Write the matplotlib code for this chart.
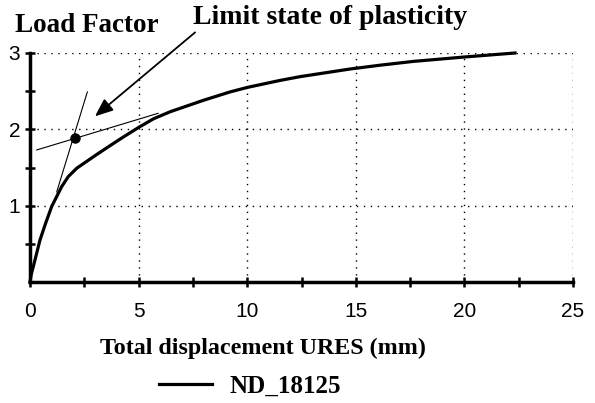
import matplotlib.pyplot as plt

# load-displacement curve
disp = [0, 0.05, 0.23, 0.46, 0.72, 1.0, 1.23, 1.46, 1.76, 2.15, 2.61, 3.07, 3.76,
        4.3, 5.03, 5.7, 6.45, 7.98, 9.21, 10.02, 11.5, 12.43, 13.81, 14.73,
        16.11, 17.65, 20.1, 22.33]
load = [0, 0.09, 0.29, 0.55, 0.77, 0.99, 1.12, 1.25, 1.38, 1.49, 1.58, 1.67, 1.80,
        1.90, 2.03, 2.14, 2.23, 2.38, 2.49, 2.55, 2.64, 2.69, 2.75, 2.79,
        2.84, 2.89, 2.95, 3.0]

# construction lines for the limit state
tangent_plastic_x = [0.31, 5.9]
tangent_plastic_y = [1.73, 2.21]
tangent_elastic_x = [1.23, 2.64]
tangent_elastic_y = [1.18, 2.49]
limit_point = (2.07, 1.89)

xticks = [0, 5, 10, 15, 20, 25]
yticks = [1, 2, 3]

serif = "Liberation Serif"
sans = "Liberation Sans"

fig = plt.figure(figsize=(5.95, 4.03), dpi=100)
ax = fig.add_axes([30 / 595, 1 - 282 / 403, 543 / 595, 229 / 403])

ax.plot(disp, load, color="black", lw=2.3, label="ND_18125", clip_on=False,
        zorder=3, solid_joinstyle="round")
ax.plot(tangent_plastic_x, tangent_plastic_y, color="black", lw=0.8)
ax.plot(tangent_elastic_x, tangent_elastic_y, color="black", lw=0.8)
ax.plot(*limit_point, "o", color="black", ms=6.5, zorder=4)

ax.annotate("", xy=(2.99, 2.17), xytext=(7.6, 3.27), xycoords="data",
            arrowprops=dict(arrowstyle="-|>,head_length=1.1,head_width=0.45",
                            color="black", lw=1.3, shrinkA=0, shrinkB=0),
            annotation_clip=False)

ax.set_xlim(0, 25)
ax.set_ylim(0, 3)
ax.set_xticks(xticks)
ax.set_yticks(yticks)
ax.set_xticks([2.5, 7.5, 12.5, 17.5, 22.5], minor=True)
ax.set_yticks([0.5, 1.5, 2.5], minor=True)
ax.tick_params(which="both", direction="inout", length=7, width=1.8, labelsize=15)
ax.tick_params(axis="x", pad=11)
for lbl in ax.get_xticklabels() + ax.get_yticklabels():
    lbl.set_fontfamily(sans)

for side in ["top", "right"]:
    ax.spines[side].set_visible(False)
for side in ["left", "bottom"]:
    ax.spines[side].set_linewidth(2.5)

ax.grid(True, which="major", color="black", linestyle=(0, (1, 4)), lw=1)

fig.text(15 / 595, 1 - 25 / 403, "Load Factor", fontsize=19.5, fontweight="bold",
         family=serif, ha="left", va="center")
fig.text(330 / 595, 1 - 18 / 403, "Limit state of plasticity", fontsize=20,
         fontweight="bold", family=serif, ha="center", va="center")
fig.text(263 / 595, 1 - 348 / 403, "Total displacement URES (mm)", fontsize=17.3,
         fontweight="bold", family=serif, ha="center", va="center")

fig.legend(loc="center", bbox_to_anchor=(250 / 595, 1 - 386 / 403), frameon=False,
           handlelength=2.1, handletextpad=0.7,
           prop={"family": serif, "weight": "bold", "size": 18})

fig.savefig("out.png", dpi=100)
